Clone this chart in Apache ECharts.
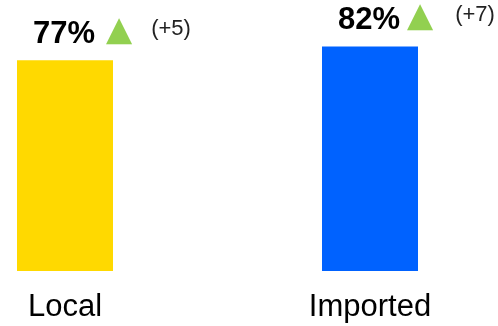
<!DOCTYPE html>
<html>
<head>
<meta charset="utf-8">
<script src="https://cdn.jsdelivr.net/npm/echarts@6/dist/echarts.min.js"></script>
<style>
  html, body { margin: 0; padding: 0; background: #fff; }
  #chart { width: 498px; height: 326px; }
</style>
</head>
<body>
<div id="chart"></div>
<script>
const categories = ['Local', 'Imported'];
const shares = [77, 82];
const changes = [5, 7];
const barColors = ['#FFD900', '#0062FF'];

const chart = echarts.init(document.getElementById('chart'));

const font = '"Liberation Sans", Arial, sans-serif';
// spacing around the arrow differs a little per bar in the original
const arrowPad = [[0, 19, 7, 11], [0, 22, 7, 7]];

const data = shares.map((v, i) => ({
    value: v,
    itemStyle: { color: barColors[i] },
    label: {
        formatter: '{v|' + v + '%}{t|▲}{d|(+' + changes[i] + ')}',
        rich: {
            v: { fontSize: 31, fontWeight: 'bold', color: '#000', fontFamily: font, lineHeight: 34 },
            t: { fontSize: 34, color: '#92D050', fontFamily: '"DejaVu Sans"', lineHeight: 34, padding: arrowPad[i] },
            d: { fontSize: 22, color: '#222', fontFamily: font, lineHeight: 34, padding: [0, 0, 11, 0] }
        }
    }
}));

chart.setOption({
    animation: false,
    grid: { left: 65, right: 128, top: 0, bottom: 55 },
    xAxis: {
        type: 'category',
        data: categories,
        boundaryGap: false,
        axisLine: { show: false },
        axisTick: { show: false },
        axisLabel: {
            color: '#000',
            fontFamily: font,
            fontSize: 31,
            margin: 21
        }
    },
    yAxis: {
        type: 'value',
        min: 0,
        max: 99,
        show: false,
        splitLine: { show: false }
    },
    series: [{
        type: 'bar',
        barWidth: 96,
        data: data,
        label: {
            show: true,
            position: [16, -9],
            align: 'left',
            verticalAlign: 'bottom',
            fontFamily: font
        }
    }]
});
</script>
</body>
</html>
